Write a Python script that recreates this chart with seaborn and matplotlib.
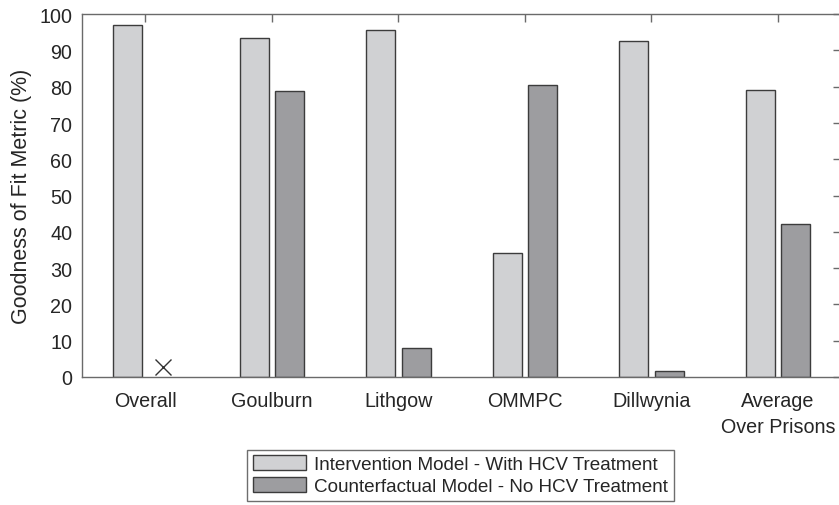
import pandas as pd
import numpy as np
import matplotlib
matplotlib.use("Agg")
import matplotlib.pyplot as plt
import seaborn as sns

# values
prisons = ["Overall", "Goulburn", "Lithgow", "OMMPC", "Dillwynia", "Average\nOver Prisons"]
intervention = [97.0, 93.5, 95.6, 34.3, 92.6, 79.1]
counterfactual = [np.nan, 78.7, 8.0, 80.4, 1.7, 42.1]
series_names = ["Intervention Model - With HCV Treatment",
                "Counterfactual Model - No HCV Treatment"]
missing_marker_y = 2.8  # the "x" drawn where the overall counterfactual has no bar

data = pd.DataFrame({
    "prison": prisons * 2,
    "fit": intervention + counterfactual,
    "model": [series_names[0]] * len(prisons) + [series_names[1]] * len(prisons),
})

sns.set_style("white")
plt.rcParams["font.family"] = ["Liberation Sans", "DejaVu Sans"]
line_col = "#6a6a6a"

fig = plt.figure(figsize=(8.39, 5.06), dpi=100)
ax = fig.add_axes([0.0977, 0.253, 0.905, 0.717])

sns.barplot(data=data, x="prison", y="fit", hue="model",
            palette=["#d0d1d3", "#9c9da0"], width=0.56, gap=0.18,
            edgecolor="#3c3c3c", linewidth=1.0, ax=ax)

# marker for the missing overall counterfactual value, at that series' dodge offset
ax.plot(0 + 0.56 / 4, missing_marker_y, marker="x", ms=12, mew=1.0, color="#333333", ls="none")

ax.set_xlim(-0.5, 5.5)
ax.set_ylim(0, 100)
ax.set_yticks(range(0, 101, 10))
ax.set_xlabel("")
ax.set_ylabel("Goodness of Fit Metric (%)", fontsize=15.5, labelpad=5)
ax.tick_params(axis="both", direction="in", length=6, width=1.0, color=line_col,
               labelsize=14.2, top=True, right=True, pad=7)
ax.tick_params(axis="x", pad=10)
for lab in ax.get_xticklabels():
    lab.set_linespacing(1.5)
for s in ax.spines.values():
    s.set_visible(True)
    s.set_color(line_col)
    s.set_linewidth(1.0)

ax.legend(loc="upper center", bbox_to_anchor=(0.4985, -0.2), ncol=1,
          fontsize=13.6, frameon=True, fancybox=False, edgecolor="#4a4a4a",
          handlelength=2.8, handleheight=0.85, handletextpad=0.45,
          labelspacing=0.2, borderpad=0.3, borderaxespad=0)

fig.savefig("out.png", dpi=100)
